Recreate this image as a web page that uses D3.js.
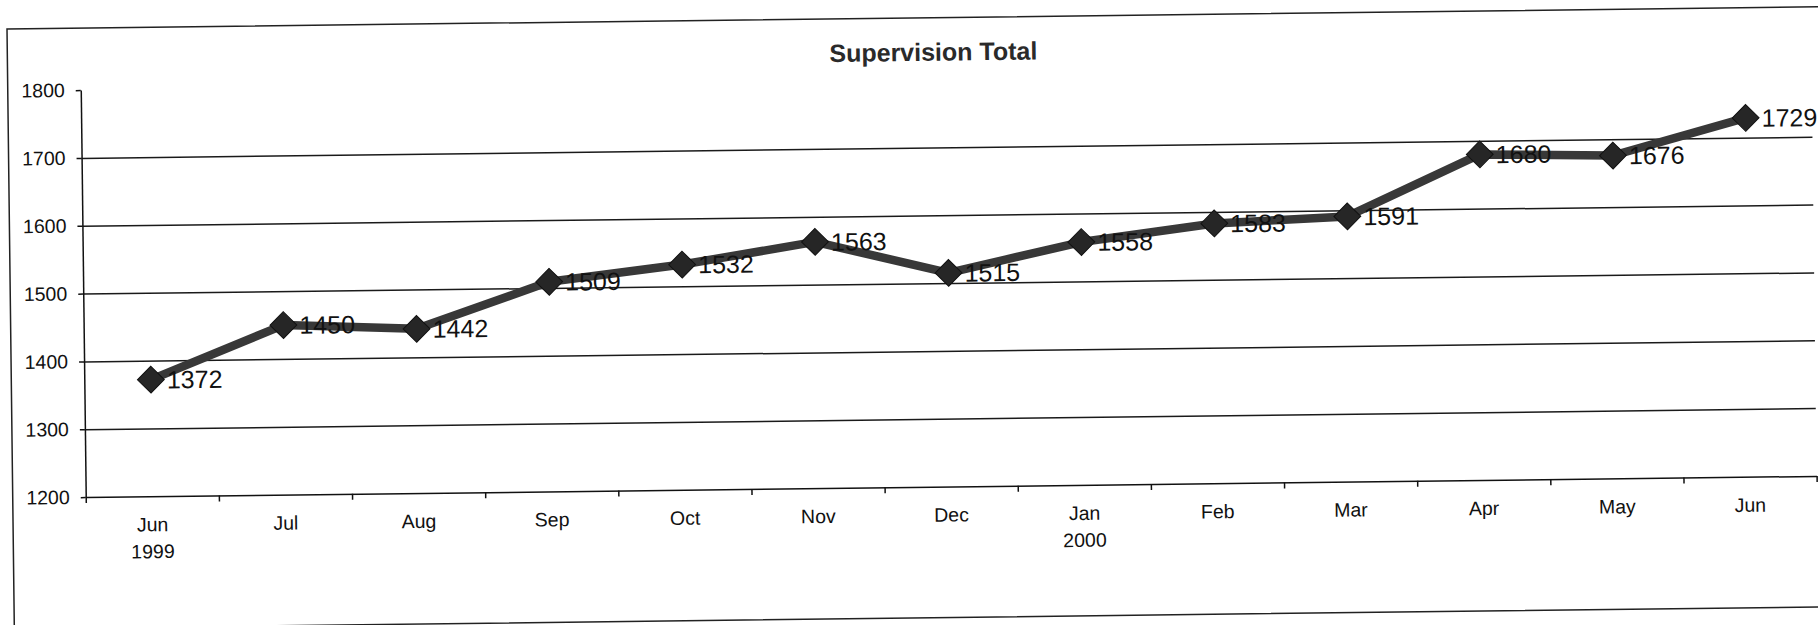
<!DOCTYPE html>
<html>
<head>
<meta charset="utf-8">
<script src="https://cdnjs.cloudflare.com/ajax/libs/d3/7.8.5/d3.min.js"></script>
<style>
  body { margin: 0; background: #fff; }
  svg { display: block; font-family: "Liberation Sans", Arial, sans-serif; }
</style>
</head>
<body>
<svg id="chart"></svg>
<script>
const width = 1818;
const height = 625;

const monthLabels = ['Jun', 'Jul', 'Aug', 'Sep', 'Oct', 'Nov', 'Dec', 'Jan', 'Feb', 'Mar', 'Apr', 'May', 'Jun'];
const yearLabels = ['1999', '', '', '', '', '', '', '2000', '', '', '', '', ''];
const totals = [1372, 1450, 1442, 1509, 1532, 1563, 1515, 1558, 1583, 1591, 1680, 1676, 1729];
const yTicks = [1200, 1300, 1400, 1500, 1600, 1700, 1800];
const title = 'Supervision Total';

// plot box inside the (slightly tilted) chart frame
const plotLeft = 73, plotRight = 1804, plotTop = 62, plotBottom = 469;

const svg = d3.select('#chart')
            .attr('width', width)
            .attr('height', height);

// the scanned page is tilted a little, so the whole chart is rotated
const chart = svg.append('g').attr('transform', 'translate(7,29) rotate(-0.7)');

chart.append('rect')
    .attr('x', 0).attr('y', 0)
    .attr('width', 1850).attr('height', 600)
    .attr('fill', 'none')
    .attr('stroke', '#222')
    .attr('stroke-width', 1.5);

const x = d3.scaleBand().domain(d3.range(totals.length)).range([plotLeft, plotRight]);
const xEdge = d3.scaleLinear().domain([0, totals.length]).range([plotLeft, plotRight]);
const y = d3.scaleLinear().domain([1200, 1800]).range([plotBottom, plotTop]);

// gridlines (none at the top value)
const grid = chart.append('g')
    .attr('transform', `translate(${plotLeft},0)`)
    .call(d3.axisLeft(y)
        .tickValues(yTicks.filter(v => v > 1200 && v < 1800))
        .tickSize(-(plotRight - plotLeft))
        .tickFormat(''));
grid.select('.domain').remove();
grid.selectAll('line').attr('stroke', '#1a1a1a').attr('stroke-width', 1.5);

const yAxis = chart.append('g')
    .attr('transform', `translate(${plotLeft},0)`)
    .call(d3.axisLeft(y)
        .tickValues(yTicks)
        .tickSize(5)
        .tickSizeOuter(0)
        .tickPadding(11)
        .tickFormat(d3.format('d')));
yAxis.selectAll('text').attr('font-size', 19.5).attr('fill', '#111')
    .attr('font-family', '"Liberation Sans", Arial, sans-serif');
yAxis.selectAll('line, path').attr('stroke', '#111').attr('stroke-width', 1.5);

const xAxis = chart.append('g')
    .attr('transform', `translate(0,${plotBottom})`)
    .call(d3.axisBottom(xEdge)
        .tickValues(d3.range(totals.length + 1))
        .tickSize(6)
        .tickSizeOuter(0)
        .tickFormat(''));
xAxis.selectAll('line, path').attr('stroke', '#111').attr('stroke-width', 1.5);

const xLabels = chart.append('g')
    .selectAll('text')
    .data(monthLabels)
    .enter()
    .append('text')
    .attr('text-anchor', 'middle')
    .attr('font-size', 19.5)
    .attr('fill', '#111')
    .attr('x', (d, i) => x(i) + x.bandwidth() / 2)
    .attr('y', plotBottom + 35);
xLabels.append('tspan').text(d => d);
xLabels.append('tspan')
    .attr('x', (d, i) => x(i) + x.bandwidth() / 2)
    .attr('dy', 27)
    .text((d, i) => yearLabels[i]);

chart.append('text')
    .attr('x', 926)
    .attr('y', 43)
    .attr('text-anchor', 'middle')
    .attr('font-size', 25)
    .attr('font-weight', 'bold')
    .attr('fill', '#2a2a2a')
    .text(title);

const cx = i => x(i) + x.bandwidth() / 2;

chart.append('path')
    .datum(totals)
    .attr('fill', 'none')
    .attr('stroke', '#383838')
    .attr('stroke-width', 8.5)
    .attr('stroke-linejoin', 'round')
    .attr('d', d3.line()
        .x((d, i) => cx(i))
        .y(d => y(d)));

chart.append('g')
    .selectAll('path')
    .data(totals)
    .enter()
    .append('path')
    .attr('d', d3.symbol(d3.symbolSquare, 360))
    .attr('transform', (d, i) => `translate(${cx(i)},${y(d)}) rotate(45)`)
    .attr('fill', '#262626')
    .attr('stroke', '#111')
    .attr('stroke-width', 1);

chart.append('g')
    .selectAll('text')
    .data(totals)
    .enter()
    .append('text')
    .attr('x', (d, i) => cx(i) + 16)
    .attr('y', d => y(d))
    .attr('dy', '0.36em')
    .attr('font-size', 25)
    .attr('fill', '#111')
    .text(d => d);
</script>
</body>
</html>
